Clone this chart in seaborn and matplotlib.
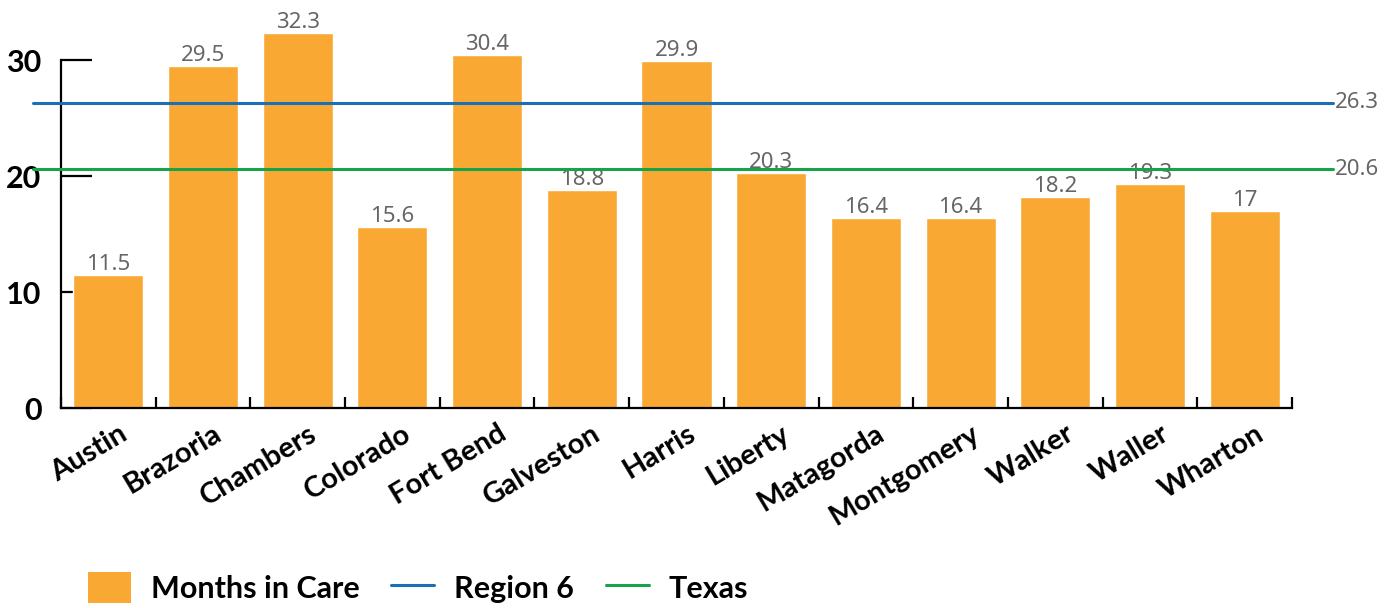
import matplotlib
matplotlib.use("Agg")
import matplotlib.pyplot as plt
import matplotlib.transforms as mtransforms
from matplotlib.patches import Patch
from matplotlib.lines import Line2D
import seaborn as sns
import pandas as pd

counties = ["Austin", "Brazoria", "Chambers", "Colorado", "Fort Bend", "Galveston",
            "Harris", "Liberty", "Matagorda", "Montgomery", "Walker", "Waller", "Wharton"]
months_in_care = [11.5, 29.5, 32.3, 15.6, 30.4, 18.8, 29.9, 20.3, 16.4, 16.4, 18.2, 19.3, 17]
value_labels = ["11.5", "29.5", "32.3", "15.6", "30.4", "18.8", "29.9", "20.3",
                "16.4", "16.4", "18.2", "19.3", "17"]
region6_avg = 26.3
texas_avg = 20.6
y_ticks = [0, 10, 20, 30]

BAR = "#F9A933"
BLUE = "#1B6FB5"
GREEN = "#17A34A"
GREY = "#666666"

sns.set_theme(style="white")
plt.rcParams["font.family"] = ["Noto Sans", "DejaVu Sans"]
BOLD = ["Lato", "DejaVu Sans"]

df = pd.DataFrame({"County": counties, "Months": months_in_care})

fig = plt.figure(figsize=(13.98, 6.08), dpi=100)
ax = fig.add_axes([61 / 1398, 200 / 608, 1231 / 1398, 406 / 608])

sns.barplot(data=df, x="County", y="Months", color=BAR, saturation=1,
            width=0.74, ax=ax)

ax.set_xlim(-0.5, len(counties) - 0.5)
ax.set_ylim(0, 35)
ax.set_xlabel("")
ax.set_ylabel("")

# value labels above bars
for i, (v, lab) in enumerate(zip(months_in_care, value_labels)):
    ax.annotate(lab, (i, v), xytext=(0, 0), textcoords="offset points",
                ha="center", va="bottom", fontsize=16, color=GREY)

# reference lines extending past the plot area
x0, x1 = -0.8, 12.93
for val, col in [(region6_avg, BLUE), (texas_avg, GREEN)]:
    ax.plot([x0, x1], [val, val], color=col, lw=2.2, clip_on=False, zorder=3)
    ax.text(x1 + 0.02, val, f"{val}", ha="left", va="center", fontsize=16,
            color=GREY, clip_on=False)

# spines
for s in ["top", "right"]:
    ax.spines[s].set_visible(False)
for s in ["left", "bottom"]:
    ax.spines[s].set_visible(True)
    ax.spines[s].set_color("black")
    ax.spines[s].set_linewidth(1.6)
ax.spines["left"].set_bounds(0, 30)

# y ticks pointing inward
ax.set_yticks(y_ticks)
ax.set_yticklabels([str(t) for t in y_ticks], fontsize=22, fontweight="bold",
                   family=BOLD, color="black")
ax.tick_params(axis="y", direction="in", length=22, width=1.6, color="black",
               left=True, pad=14)

# x: ticks between categories, pointing inward
ax.set_xticks(range(len(counties)))
ax.set_xticklabels(counties, fontsize=21, fontweight="bold", family=BOLD,
                   color="black", rotation=31, ha="right", va="top",
                   rotation_mode="anchor")
ax.tick_params(axis="x", which="major", length=0, pad=9)
ax.set_xticks([i + 0.5 for i in range(-1, len(counties))], minor=True)
ax.tick_params(axis="x", which="minor", direction="in", length=8, width=1.6,
               color="black", bottom=True)
offset = mtransforms.ScaledTranslation(10 / 100, 0, fig.dpi_scale_trans)
for lab in ax.get_xticklabels():
    lab.set_transform(lab.get_transform() + offset)

handles = [
    Patch(facecolor=BAR, edgecolor="none", label="Months in Care"),
    Line2D([0], [0], color=BLUE, lw=2.2, label="Region 6"),
    Line2D([0], [0], color=GREEN, lw=2.2, label="Texas"),
]
leg = fig.legend(handles=handles, loc="center left",
                 bbox_to_anchor=(88 / 1398, 0.034), ncol=3, frameon=False,
                 prop={"size": 22, "weight": "bold", "family": BOLD},
                 handlelength=1.4, handleheight=1.2, handletextpad=0.65,
                 columnspacing=1.05, borderaxespad=0, borderpad=0)
for t in leg.get_texts():
    t.set_color("black")

fig.savefig("out.png", dpi=100)
